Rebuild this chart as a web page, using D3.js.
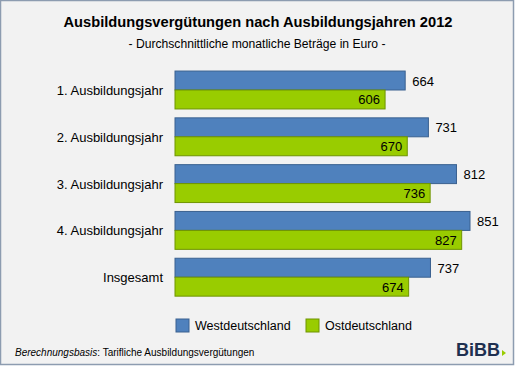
<!DOCTYPE html>
<html><head><meta charset="utf-8">
<script src="https://cdn.jsdelivr.net/npm/d3@7/dist/d3.min.js"></script>
<style>body{margin:0;background:#fff}svg{display:block}</style>
</head><body>
<script>
const categories = ["1. Ausbildungsjahr","2. Ausbildungsjahr","3. Ausbildungsjahr","4. Ausbildungsjahr","Insgesamt"];
const seriesNames = ["Westdeutschland","Ostdeutschland"];
const west = [664, 731, 812, 851, 737];
const ost = [606, 670, 736, 827, 674];
const title = "Ausbildungsvergütungen nach Ausbildungsjahren 2012";
const subtitle = "- Durchschnittliche monatliche Beträge in Euro -";

const W = 515, H = 366;
const font = "Liberation Sans, Arial, sans-serif";
const fills = ["#4f81bd", "#99cc00"];
const strokes = ["#3a6190", "#6f9400"];

const svg = d3.select("body").append("svg").attr("width", W).attr("height", H);
svg.append("rect").attr("x", 0.5).attr("y", 0.5).attr("width", W - 2).attr("height", H - 2)
  .attr("fill", "#f2f2f2").attr("stroke", "#8d9cb0").attr("stroke-width", 1.5);

svg.append("text").attr("x", 258).attr("y", 27).attr("text-anchor", "middle")
  .attr("font-family", font).attr("font-weight", "bold").attr("font-size", 15.5).attr("fill", "#000")
  .attr("textLength", 389).attr("lengthAdjust", "spacingAndGlyphs")
  .text(title);
svg.append("text").attr("x", 257).attr("y", 48).attr("text-anchor", "middle")
  .attr("font-family", font).attr("font-size", 12).attr("fill", "#000").attr("textLength", 257)
  .attr("lengthAdjust", "spacingAndGlyphs")
  .text(subtitle);

const x = d3.scaleLinear().domain([0, 851]).range([175, 470]);
const y = d3.scaleBand().domain(categories).range([66.6, 300.6]).paddingInner(0.19).paddingOuter(0.095);
const y1 = d3.scaleBand().domain([0, 1]).range([0, y.bandwidth()]);

const g = svg.append("g");
categories.forEach((c, i) => {
  const vals = [west[i], ost[i]];
  vals.forEach((v, s) => {
    g.append("rect").attr("x", x(0)).attr("y", y(c) + y1(s))
      .attr("width", x(v) - x(0)).attr("height", y1.bandwidth())
      .attr("fill", fills[s]).attr("stroke", strokes[s]).attr("stroke-width", 1);
    const t = g.append("text").attr("font-family", font).attr("font-size", 13).attr("fill", "#000")
      .attr("y", y(c) + y1(s) + y1.bandwidth() / 2 + 5).text(v);
    if (s === 0) t.attr("x", x(v) + 7).attr("text-anchor", "start");
    else t.attr("x", x(v) - 5).attr("text-anchor", "end");
  });
  g.append("text").attr("x", 163).attr("y", y(c) + y.bandwidth() / 2 + 5)
    .attr("text-anchor", "end").attr("font-family", font).attr("font-size", 13).attr("fill", "#000")
    .text(c);
});

// legend
const legX = [176, 306];
seriesNames.forEach((n, s) => {
  svg.append("rect").attr("x", legX[s]).attr("y", 319).attr("width", 13).attr("height", 13)
    .attr("fill", fills[s]).attr("stroke", strokes[s]);
  svg.append("text").attr("x", legX[s] + 19).attr("y", 330).attr("font-family", font)
    .attr("font-size", 12.5).attr("fill", "#000").text(n);
});

// footer
const ft = svg.append("text").attr("x", 15).attr("y", 356).attr("font-family", font).attr("font-size", 10).attr("fill", "#000");
ft.append("tspan").attr("font-style", "italic").text("Berechnungsbasis");
ft.append("tspan").text(": Tarifliche Ausbildungsvergütungen");

svg.append("text").attr("x", 500).attr("y", 356).attr("text-anchor", "end").attr("font-family", font)
  .attr("font-weight", "bold").attr("font-size", 18).attr("fill", "#1f3050").text("BiBB");
svg.append("path").attr("d", "M502,350 L506,353 L502,356 Z").attr("fill", "#99cc00");
</script>
</body></html>
